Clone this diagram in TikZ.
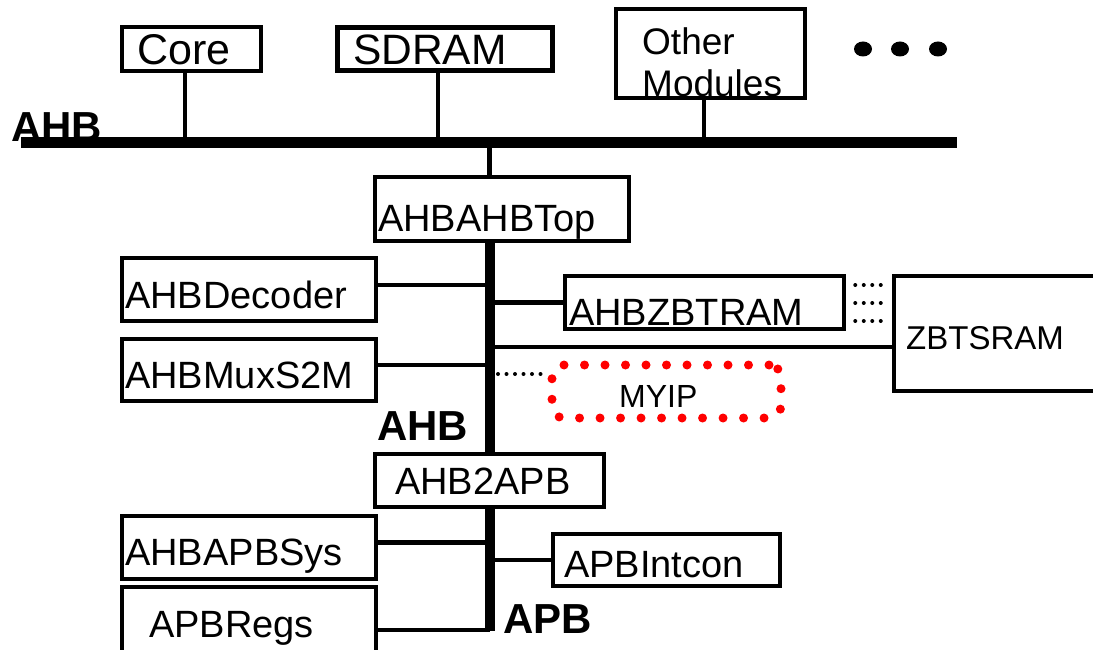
\documentclass[tikz,border=0pt]{standalone}
\usepackage{fontspec}
\setmainfont{Liberation Sans}
\definecolor{myred}{RGB}{255,0,0}
\begin{document}
\begin{tikzpicture}[x=1pt,y=-1pt,
  box/.style={draw, line width=4.5pt, inner sep=0pt, rectangle},
  lbl/.style={anchor=base west, inner sep=0pt, font=\fontsize{38}{40}\selectfont},
  conn/.style={line width=4.5pt},
  busline/.style={line width=11pt},
  vbar/.style={line width=10pt},
  bdots/.style={line width=4pt, line cap=round, dash pattern=on 0pt off 8.5pt},
  rdots/.style={draw=myred, line width=9pt, line cap=round, dash pattern=on 0pt off 20.5pt, rounded corners=12pt, inner sep=0pt},
  blbl/.style={anchor=base west, inner sep=0pt, font=\bfseries\fontsize{42}{44}\selectfont}]
\useasboundingbox (0,0) rectangle (1093,650);
\clip (0,0) rectangle (1093,650);

% top modules
\node[box, minimum width=139pt, minimum height=44pt] (core) at (191.5,49) {};
\node[lbl, font=\fontsize{43}{45}\selectfont] (coreT) at (137,65) {Core};
\node[box, minimum width=215pt, minimum height=43pt] (sdram) at (445,49) {};
\node[lbl, font=\fontsize{42.5}{45}\selectfont] (sdramT) at (353,65) {SDRAM};
\node[box, minimum width=189pt, minimum height=89pt] (other) at (710.5,53.5) {};
\node[lbl, font=\fontsize{37}{40}\selectfont] (otherT1) at (642,55) {Other};
\node[lbl, font=\fontsize{37}{40}\selectfont] (otherT2) at (642,97) {Modules};
\fill (863,49) ellipse [x radius=9, y radius=7.5];
\fill (900,49) ellipse [x radius=9, y radius=7.5];
\fill (938,49) ellipse [x radius=9, y radius=7.5];

% AHB bus
\node[blbl] (ahbA) at (11,142) {AHB};
\coordinate (busL) at (21,142.5);
\coordinate (busR) at (957,142.5);
\draw[busline] (busL) -- (busR);
\coordinate (tapCore) at (185,142.5);
\coordinate (tapSD) at (438,142.5);
\coordinate (tapOM) at (704,142.5);
\coordinate (tapTop) at (489.5,142.5);
\draw[conn] (core.south -| tapCore) -- (tapCore);
\draw[conn] (sdram.south -| tapSD) -- (tapSD);
\draw[conn] (other.south -| tapOM) -- (tapOM);

% AHBAHBTop
\node[box, minimum width=254pt, minimum height=64pt] (ahbtop) at (502,209) {};
\node[lbl] (ahbtopT) at (378,231) {AHBAHBTop};
\draw[conn] (tapTop) -- (tapTop |- ahbtop.north);

% AHB2APB
\node[box, minimum width=229pt, minimum height=53pt] (ahb2apb) at (489.5,480.5) {};
\node[lbl] (ahb2apbT) at (395,494) {AHB2APB};

% left AHB slaves
\node[box, minimum width=254pt, minimum height=63pt] (dec) at (249,289.5) {};
\node[lbl] (decT) at (125,308) {AHBDecoder};
\node[box, minimum width=254pt, minimum height=62pt] (mux) at (249,370) {};
\node[lbl] (muxT) at (125,388) {AHBMuxS2M};

% right AHB slaves
\node[box, minimum width=279pt, minimum height=53pt] (zbt) at (704.5,302.5) {};
\node[lbl] (zbtT) at (569,325) {AHBZBTRAM};
\node[box, minimum width=216pt, minimum height=115pt] (sram) at (1002,333.5) {};
\node[lbl, font=\fontsize{33}{36}\selectfont] (sramT) at (906,349) {ZBTSRAM};
\node[rdots, minimum width=229pt, minimum height=53pt] (myip) at (666.5,391.5) {};
\node[lbl, font=\fontsize{32}{35}\selectfont] (myipT) at (619,407) {MYIP};
\node[blbl] (ahbB) at (377,440) {AHB};

% AHB vertical bar
\draw[vbar] (ahbtop.south -| ahb2apb.north) -- (ahb2apb.north);

\coordinate (decTap) at (489.5,285);
\coordinate (muxTap) at (489.5,365);
\coordinate (zbtTap) at (489.5,302.5);
\coordinate (sramTap) at (489.5,347);
\coordinate (myipTap) at (498,374);
\draw[conn] (dec.east |- decTap) -- (decTap);
\draw[conn] (mux.east |- muxTap) -- (muxTap);
\draw[conn] (zbtTap) -- (zbt.west |- zbtTap);
\draw[conn] (sramTap) -- (sram.west |- sramTap);
\draw[bdots, shorten >=5pt] (myipTap) -- (myip.west |- myipTap);

\coordinate (r1) at (0,285);
\coordinate (r2) at (0,303);
\coordinate (r3) at (0,321);
\draw[bdots, shorten <=9pt, shorten >=5pt] (zbt.east |- r1) -- (sram.west |- r1);
\draw[bdots, shorten <=9pt, shorten >=5pt] (zbt.east |- r2) -- (sram.west |- r2);
\draw[bdots, shorten <=9pt, shorten >=5pt] (zbt.east |- r3) -- (sram.west |- r3);

% APB
\node[box, minimum width=254pt, minimum height=63pt] (sys) at (249,547.5) {};
\node[lbl] (sysT) at (125,565) {AHBAPBSys};
\node[box, minimum width=254pt, minimum height=68pt] (regs) at (249,621) {};
\node[lbl] (regsT) at (149,637) {APBRegs};
\node[box, minimum width=227pt, minimum height=52pt] (intc) at (666.5,560) {};
\node[lbl] (intcT) at (564,577) {APBIntcon};
\node[blbl] (apbL) at (503,633) {APB};

\coordinate (apbEnd) at (489.5,631);
\draw[vbar] (ahb2apb.south) -- (apbEnd);
\coordinate (sysTap) at (489.5,542.5);
\coordinate (regsTap) at (489.5,630);
\coordinate (intcTap) at (489.5,560);
\draw[conn] (sys.east |- sysTap) -- (sysTap);
\draw[conn] (regs.east |- regsTap) -- (regsTap);
\draw[conn] (intcTap) -- (intc.west |- intcTap);
\end{tikzpicture}
\end{document}
